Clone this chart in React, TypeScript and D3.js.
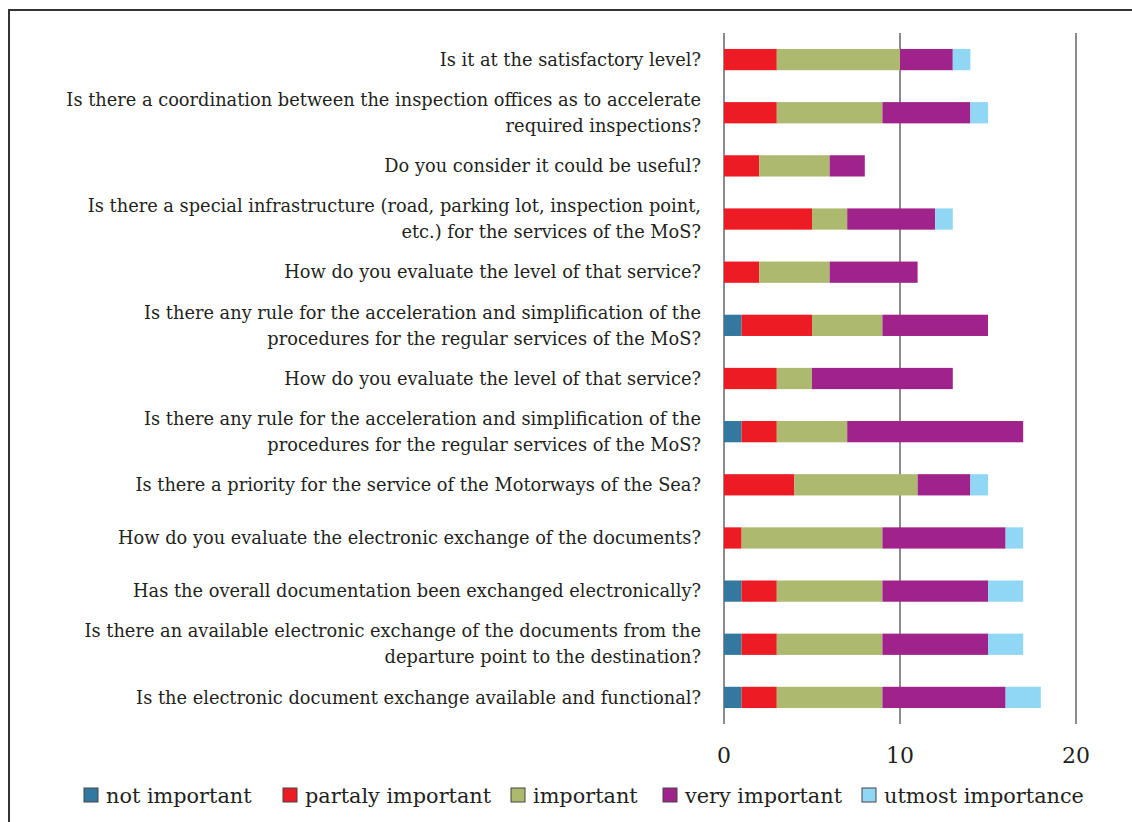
import React from "react";
import * as d3 from "d3";

const categories: string[][] = [
  ["Is it at the satisfactory level?"],
  ["Is there a coordination between the inspection offices as to accelerate", "required inspections?"],
  ["Do you consider it could be useful?"],
  ["Is there a special infrastructure (road, parking lot, inspection point,", "etc.) for the services of the MoS?"],
  ["How do you evaluate the level of that service?"],
  ["Is there any rule for the acceleration and simplification of the", "procedures for the regular services of the MoS?"],
  ["How do you evaluate the level of that service?"],
  ["Is there any rule for the acceleration and simplification of the", "procedures for the regular services of the MoS?"],
  ["Is there a priority for the service of the Motorways of the Sea?"],
  ["How do you evaluate the electronic exchange of the documents?"],
  ["Has the overall documentation been exchanged electronically?"],
  ["Is there an available electronic exchange of the documents from the", "departure point to the destination?"],
  ["Is the electronic document exchange available and functional?"],
];

const seriesNames = ["not important", "partaly important", "important", "very important", "utmost importance"];
const seriesColors = ["#33799f", "#ed1c24", "#adb96f", "#a0238b", "#8fd7f5"];

const notImportant = [0, 0, 0, 0, 0, 1, 0, 1, 0, 0, 1, 1, 1];
const partalyImportant = [3, 3, 2, 5, 2, 4, 3, 2, 4, 1, 2, 2, 2];
const important = [7, 6, 4, 2, 4, 4, 2, 4, 7, 8, 6, 6, 6];
const veryImportant = [3, 5, 2, 5, 5, 6, 8, 10, 3, 7, 6, 6, 7];
const utmostImportance = [1, 1, 0, 1, 0, 0, 0, 0, 1, 1, 2, 2, 2];

const xTicks = [0, 10, 20];

const W = 1132;
const H = 822;

export default function App() {
  const seriesValues = [notImportant, partalyImportant, important, veryImportant, utmostImportance];
  const rows = categories.map((c, i) => {
    const r: Record<string, number> = { idx: i };
    seriesNames.forEach((s, j) => (r[s] = seriesValues[j][i]));
    return r;
  });
  const stack = d3.stack<Record<string, number>>().keys(seriesNames);
  const stacked = stack(rows);

  const x = d3.scaleLinear().domain([0, 20]).range([724, 1076]);
  const y = d3
    .scaleBand<number>()
    .domain(categories.map((_, i) => i))
    .range([33, 724])
    .paddingInner(0.6)
    .paddingOuter(0.3);

  const fontFam = "'DejaVu Serif', 'Liberation Serif', serif";
  const textColor = "#231f20";

  const legendX = [84, 283, 511, 663, 862];

  return (
    <svg width={W} height={H} style={{ position: "absolute", left: 0, top: 0 }}>
      <rect x={0} y={0} width={W} height={H} fill="#fff" />
      {/* frame */}
      <path d={`M9,${H} L9,10 L${W},10`} fill="none" stroke="#333" strokeWidth={2} />
      {/* gridlines */}
      {xTicks.map((t) => (
        <line key={t} x1={x(t)} x2={x(t)} y1={33} y2={724} stroke="#8c8c8c" strokeWidth={2} />
      ))}
      {/* bars */}
      {stacked.map((layer, j) => (
        <g key={j} fill={seriesColors[j]}>
          {layer.map((d, i) =>
            d[1] - d[0] > 0 ? (
              <rect
                key={i}
                x={x(d[0])}
                y={y(i)!}
                width={x(d[1]) - x(d[0])}
                height={y.bandwidth()}
              />
            ) : null
          )}
        </g>
      ))}
      {/* category labels */}
      {categories.map((lines, i) => {
        const cy = y(i)! + y.bandwidth() / 2;
        const lh = 26;
        const startY = cy - ((lines.length - 1) * lh) / 2;
        return (
          <text
            key={i}
            textAnchor="end"
            fontFamily={fontFam}
            fontSize={17.8}
            fill={textColor}
          >
            {lines.map((l, k) => (
              <tspan key={k} x={701} y={startY + k * lh} dy="0.35em">
                {l}
              </tspan>
            ))}
          </text>
        );
      })}
      {/* tick labels */}
      {xTicks.map((t) => (
        <text
          key={t}
          x={x(t)}
          y={755}
          dy="0.35em"
          textAnchor="middle"
          fontFamily={fontFam}
          fontSize={22}
          fill={textColor}
        >
          {t}
        </text>
      ))}
      {/* legend */}
      {seriesNames.map((s, j) => (
        <g key={s}>
          <rect
            x={legendX[j]}
            y={788}
            width={14}
            height={14}
            fill={seriesColors[j]}
            stroke="#444"
            strokeWidth={1}
          />
          <text
            x={legendX[j] + 22}
            y={796}
            dy="0.35em"
            fontFamily={fontFam}
            fontSize={20.8}
            fill={textColor}
          >
            {s}
          </text>
        </g>
      ))}
    </svg>
  );
}
